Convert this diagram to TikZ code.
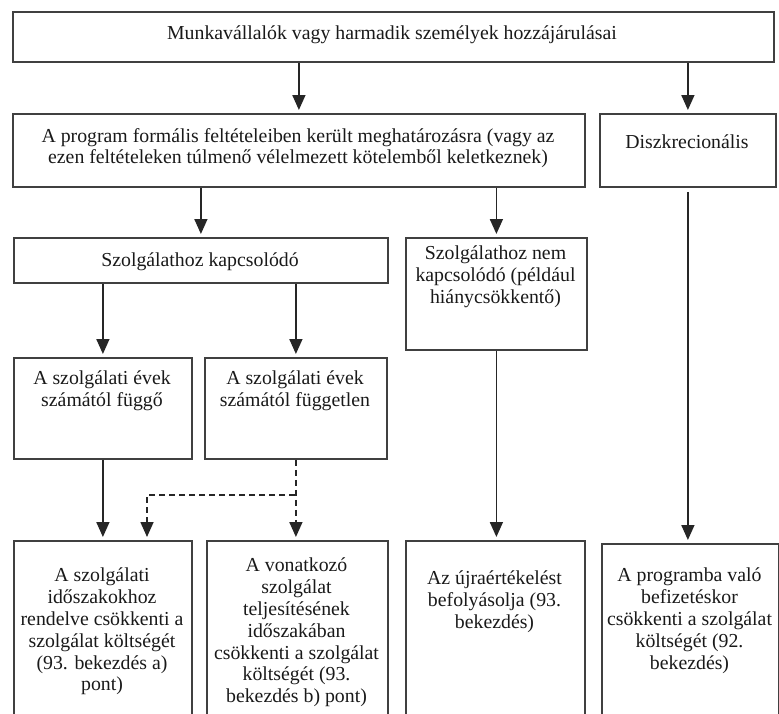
\documentclass[tikz,border=0pt]{standalone}
\usepackage{fontspec}
\setmainfont{Liberation Serif}
\usetikzlibrary{arrows.meta}
\begin{document}
\begin{tikzpicture}[x=1pt,y=-1pt]
            \tikzstyle{box}=[draw=black!75,line width=1.8pt,rectangle,anchor=north west,inner sep=0pt]
            \tikzstyle{txt}=[anchor=north,align=center,inner sep=0pt,text=black!90,font=\fontsize{19.8}{21.8}\selectfont]
            \tikzstyle{arrow}=[line width=1.6pt,draw=black!85,shorten >=3pt,-{Triangle[length=15pt,width=13pt]}]
            \tikzstyle{dasharrow}=[arrow,dash pattern=on 6pt off 4pt]
            \useasboundingbox (0,0) rectangle (779,713);
            % top row
            \node[box,minimum width=761pt,minimum height=50pt] (top) at (12,11) {};
            \node[txt] (toptxt) at (392,26) {Munkavállalók vagy harmadik személyek hozzájárulásai};
            % second row
            \node[box,minimum width=572pt,minimum height=73pt] (prog) at (12,113) {};
            \node[txt] (progtxt) at (298,128) {A program formális feltételeiben került meghatározásra (vagy az\\ezen feltételeken túlmenő vélelmezett kötelemből keletkeznek)};
            \node[box,minimum width=176pt,minimum height=73pt] (diszk) at (599,113) {};
            \node[txt] (diszktxt) at (687,135) {Diszkrecionális};
            % third row
            \node[box,minimum width=374pt,minimum height=45pt] (szolg) at (13,237) {};
            \node[txt] (szolgtxt) at (200,253) {Szolgálathoz kapcsolódó};
            \node[box,minimum width=181pt,minimum height=112pt] (nem) at (405,237) {};
            \node[txt] (nemtxt) at (495.5,246) {Szolgálathoz nem\\kapcsolódó (például\\hiánycsökkentő)};
            % fourth row
            \node[box,minimum width=178pt,minimum height=101pt] (fuggo) at (13,357) {};
            \node[txt] (fuggotxt) at (102,371) {A szolgálati évek\\számától függő};
            \node[box,minimum width=182pt,minimum height=101pt] (fuggetlen) at (204,357) {};
            \node[txt] (fuggetlentxt) at (295,371) {A szolgálati évek\\számától független};
            % bottom row
            \node[box,minimum width=178pt,minimum height=200pt] (b1) at (13,540) {};
            \node[txt] (b1txt) at (102,568) {A szolgálati\\időszakokhoz\\rendelve csökkenti a\\szolgálat költségét\\(93. bekezdés a)\\pont)};
            \node[box,minimum width=181pt,minimum height=200pt] (b2) at (206,540) {};
            \node[txt] (b2txt) at (296.5,558) {A vonatkozó\\szolgálat\\teljesítésének\\időszakában\\csökkenti a szolgálat\\költségét (93.\\bekezdés b) pont)};
            \node[box,minimum width=179pt,minimum height=200pt] (b3) at (405,540) {};
            \node[txt] (b3txt) at (494.5,571) {Az újraértékelést\\befolyásolja (93.\\bekezdés)};
            \node[box,minimum width=177pt,minimum height=200pt] (b4) at (601,543) {};
            \node[txt] (b4txt) at (689.5,568) {A programba való\\befizetéskor\\csökkenti a szolgálat\\költségét (92.\\bekezdés)};
            % arrows
            \draw [arrow] (top.south -| prog.north) -- (prog.north);
            \draw [arrow] (top.south -| diszk.north) -- (diszk.north);
            \draw [arrow] (prog.south -| szolg.north) -- (szolg.north);
            \draw [arrow] (prog.south -| nem.north) -- (nem.north);
            \draw [arrow] (szolg.south -| fuggo.north) -- (fuggo.north);
            \draw [arrow] (szolg.south -| fuggetlen.north) -- (fuggetlen.north);
            \draw [arrow] (fuggo.south) -- (fuggo.south |- b1.north);
            \draw [arrow] (nem.south) -- (nem.south |- b3.north);
            \draw [arrow,shorten <=4pt] (diszk.south) -- (diszk.south |- b4.north);
            % dashed branch
            \coordinate (split) at (295,495);
            \coordinate (bend) at (147,495);
            \draw [dasharrow] (fuggetlen.south) -- (fuggetlen.south |- b2.north);
            \draw [dasharrow] (split) -- (bend) -- (bend |- b1.north);
        \end{tikzpicture}
\end{document}
